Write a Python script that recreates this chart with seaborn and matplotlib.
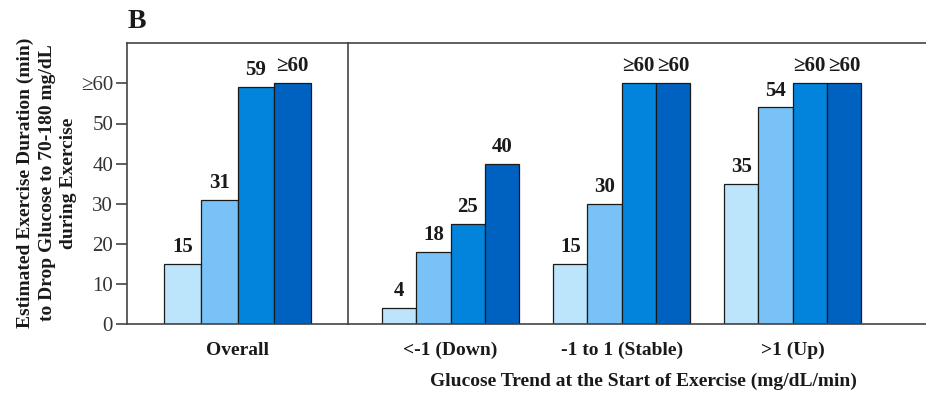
import matplotlib
matplotlib.use("Agg")
import matplotlib.pyplot as plt
import seaborn as sns
import pandas as pd

# Estimated minutes of exercise until glucose drops to 70-180 mg/dL (60 means >=60)
tiers = ["Tier 1", "Tier 2", "Tier 3", "Tier 4"]
overall_values = [15, 31, 59, 60]
trend_categories = ["<-1 (Down)", "-1 to 1 (Stable)", ">1 (Up)"]
down_values = [4, 18, 25, 40]
stable_values = [15, 30, 60, 60]
up_values = [35, 54, 60, 60]
ytick_values = [0, 10, 20, 30, 40, 50, 60]
ytick_labels = ["0", "10", "20", "30", "40", "50", "\u226560"]
palette = ["#BCE5FB", "#78C2F7", "#0284DC", "#0062C0"]

sns.set_theme(style="white")
plt.rcParams["font.family"] = ["Liberation Serif", "DejaVu Serif"]

overall_df = pd.DataFrame({"group": ["Overall"] * 4, "tier": tiers, "minutes": overall_values})
rows = []
for cat, vals in zip(trend_categories, [down_values, stable_values, up_values]):
    for t, v in zip(tiers, vals):
        rows.append({"group": cat, "tier": t, "minutes": v})
trend_df = pd.DataFrame(rows)

W, H = 926, 394
fig = plt.figure(figsize=(W / 100, H / 100), dpi=100)
bottom = (H - 324) / H
height = (324 - 43.3) / H
ax1 = fig.add_axes([127 / W, bottom, (348 - 127) / W, height])
ax2 = fig.add_axes([348 / W, bottom, (926 - 348) / W, height])

bar_kw = dict(x="group", y="minutes", hue="tier", hue_order=tiers, palette=palette,
              edgecolor="#1a1a1a", linewidth=0.9, legend=False, width=0.8, saturation=1)
sns.barplot(data=overall_df, ax=ax1, **bar_kw)
sns.barplot(data=trend_df, ax=ax2, order=trend_categories, **bar_kw)

ax1.set_xlim(-0.6, 0.6)
ax2.set_xlim(-0.6, 2.78)
spine_color = "#444444"
for ax in (ax1, ax2):
    ax.set_ylim(0, 70)
    ax.set_xlabel("")
    ax.set_ylabel("")
    ax.tick_params(axis="x", length=0, pad=13, labelsize=14)
    for lbl in ax.get_xticklabels():
        lbl.set_fontweight("bold")
        lbl.set_color("#1a1a1a")
    for side in ("left", "top", "bottom"):
        ax.spines[side].set_color(spine_color)
        ax.spines[side].set_linewidth(1.2)
    ax.spines["right"].set_visible(False)
    for cont in ax.containers:
        labels = ["\u226560" if v >= 60 else f"{v:g}" for v in cont.datavalues]
        ax.bar_label(cont, labels=labels, padding=5, fontsize=15,
                     fontweight="bold", color="#1a1a1a")

ax1.set_yticks(ytick_values)
ax1.set_yticklabels(ytick_labels)
ax1.tick_params(axis="y", direction="out", length=8, width=1.2, color=spine_color,
                labelsize=15, labelcolor="#333333", pad=2, left=True)
ax2.set_yticks([])

fig.text(47 / W, 1 - 183 / H,
         "Estimated Exercise Duration (min)\nto Drop Glucose to 70-180 mg/dL\nduring Exercise",
         rotation=90, ha="center", va="center", fontsize=14, fontweight="bold",
         color="#1a1a1a", linespacing=1.35)
fig.text(643 / W, 1 - 381 / H, "Glucose Trend at the Start of Exercise (mg/dL/min)",
         ha="center", va="center", fontsize=14, fontweight="bold", color="#1a1a1a")
fig.text(137 / W, 1 - 22 / H, "B", ha="center", va="center", fontsize=20,
         fontweight="bold", color="#1a1a1a")

fig.savefig("out.png", dpi=100)
